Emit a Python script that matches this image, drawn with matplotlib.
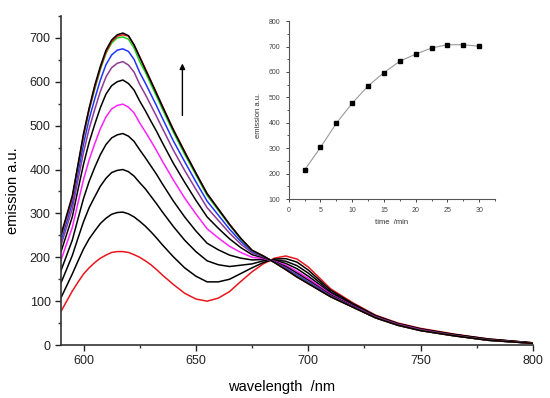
import matplotlib
matplotlib.use('Agg')
import matplotlib.pyplot as plt
from matplotlib.ticker import MultipleLocator

plt.rcParams['font.family'] = ['Liberation Sans', 'DejaVu Sans']

# Emission spectra (one row per scan, wavelength grid below).
wavelength = [590, 595, 597.5, 600, 602.5, 605, 607.5, 610, 612.5, 615, 617.5, 620, 622.5, 625,
              627.5, 630, 632.5, 635, 640, 645, 650, 655, 660, 665, 670, 675, 680, 685, 690, 695,
              700, 705, 710, 720, 730, 740, 750, 765, 780, 800]

scan_1 = [77, 123, 143, 162, 176, 188, 198, 205, 211, 213, 213, 211, 206, 200,
          192, 183, 172, 160, 138, 118, 105, 100, 107, 122, 145, 167, 185, 198, 203, 196,
          178, 153, 128, 96, 68, 50, 38, 25, 14, 5]
scan_2 = [108, 162, 191, 219, 242, 260, 277, 289, 298, 302, 303, 299, 292, 282,
          271, 258, 244, 229, 201, 176, 157, 144, 144, 150, 163, 176, 188, 196, 197, 189,
          171, 148, 125, 94, 67, 49, 37, 24, 14, 5]
scan_3 = [142, 204, 243, 281, 313, 338, 362, 380, 393, 398, 400, 395, 385, 370,
          356, 339, 322, 304, 270, 239, 213, 192, 183, 179, 182, 185, 192, 194, 191, 181,
          164, 143, 121, 92, 66, 48, 36, 24, 13, 5]
scan_4 = [170, 239, 287, 334, 373, 405, 434, 457, 472, 479, 482, 476, 464, 445,
          427, 408, 389, 368, 328, 292, 260, 232, 217, 205, 198, 194, 195, 193, 186, 174,
          157, 138, 118, 91, 65, 47, 35, 23, 12, 4]
scan_5 = [194, 268, 323, 377, 422, 459, 493, 520, 538, 546, 549, 542, 529, 506,
          486, 465, 443, 420, 376, 335, 299, 265, 244, 225, 211, 200, 197, 191, 182, 168,
          152, 134, 116, 89, 64, 47, 35, 22, 12, 4]
scan_6 = [213, 292, 353, 412, 462, 503, 541, 572, 591, 600, 604, 596, 581, 556,
          534, 510, 487, 462, 414, 371, 330, 292, 266, 242, 222, 206, 199, 190, 179, 164,
          148, 131, 114, 88, 63, 46, 34, 22, 12, 4]
scan_7 = [228, 310, 375, 439, 493, 537, 578, 611, 632, 642, 646, 638, 622, 594,
          571, 546, 521, 495, 444, 398, 355, 313, 284, 255, 230, 210, 201, 189, 176, 160,
          145, 129, 112, 87, 63, 46, 34, 22, 11, 4]
scan_8 = [238, 323, 391, 458, 515, 561, 604, 639, 661, 672, 675, 669, 651, 621,
          597, 571, 545, 518, 465, 418, 372, 328, 296, 264, 236, 213, 202, 189, 174, 158,
          143, 127, 111, 87, 62, 45, 33, 21, 11, 4]
scan_9 = [247, 335, 406, 475, 535, 583, 628, 665, 688, 700, 702, 697, 677, 646,
          622, 594, 567, 539, 485, 435, 388, 341, 307, 273, 241, 215, 203, 188, 172, 156,
          141, 125, 110, 86, 62, 45, 33, 21, 11, 4]
scan_10 = [249, 334, 408, 477, 537, 587, 632, 667, 692, 704, 707, 704, 684, 657,
           630, 602, 574, 546, 491, 441, 392, 345, 310, 275, 243, 216, 203, 188, 172, 155,
           140, 125, 110, 86, 62, 45, 33, 21, 11, 4]
scan_11 = [252, 340, 410, 482, 540, 592, 635, 672, 695, 707, 711, 705, 684, 656,
           628, 601, 573, 545, 490, 440, 392, 345, 310, 275, 243, 216, 203, 188, 172, 155,
           140, 125, 110, 86, 62, 45, 33, 21, 11, 4]

scans = [scan_1, scan_2, scan_3, scan_4, scan_5, scan_6, scan_7, scan_8, scan_9, scan_10, scan_11]
scan_colors = ['#e8161c', 'black', 'black', 'black', '#ff22ff', 'black', '#8e3a96',
               '#1f35ff', '#18d018', '#e8161c', 'black']

# Inset: peak emission vs time.
time_min = [2.5, 5, 7.5, 10, 12.5, 15, 17.5, 20, 22.5, 25, 27.5, 30]
peak_emission = [214, 303, 398, 477, 545, 597, 642, 670, 694, 707, 707, 701]

fig = plt.figure(figsize=(5.5, 3.98), dpi=100)
ax = fig.add_axes([0.111, 0.133, 0.858, 0.827])

for values, color in zip(scans, scan_colors):
    ax.plot(wavelength, values, color=color, lw=1.1)

ax.set_xlim(590, 800)
ax.set_ylim(0, 750)
ax.xaxis.set_major_locator(MultipleLocator(50))
ax.xaxis.set_minor_locator(MultipleLocator(25))
ax.yaxis.set_major_locator(MultipleLocator(100))
ax.yaxis.set_minor_locator(MultipleLocator(50))
ax.spines['top'].set_visible(False)
ax.spines['right'].set_visible(False)
for s in ['left', 'bottom']:
    ax.spines[s].set_color('#333333')
    ax.spines[s].set_linewidth(1.2)
ax.tick_params(which='major', direction='out', length=4, width=1, labelsize=9, colors='#222222')
ax.tick_params(which='minor', direction='out', length=2.5, width=1, colors='#333333')
ax.set_xlabel('wavelength  /nm', fontsize=10.5)
ax.set_ylabel('emission a.u.', fontsize=10.5)
ax.xaxis.set_label_coords(0.468, -0.105)
ax.yaxis.set_label_coords(-0.088, 0.47)

# Arrow showing the rising emission.
ax.annotate('', xy=(644, 648), xytext=(644, 517),
            arrowprops=dict(arrowstyle='-|>', color='black', lw=1.0, mutation_scale=8))

# Inset.
ins = fig.add_axes([0.525, 0.5, 0.375, 0.447])
ins.plot(time_min, peak_emission, color='#999999', lw=0.8, zorder=1)
ins.plot(time_min, peak_emission, ls='none', marker='s', ms=3, color='black', zorder=2)
ins.set_xlim(0, 32.5)
ins.set_ylim(100, 800)
ins.xaxis.set_major_locator(MultipleLocator(5))
ins.xaxis.set_minor_locator(MultipleLocator(2.5))
ins.yaxis.set_major_locator(MultipleLocator(100))
ins.yaxis.set_minor_locator(MultipleLocator(50))
ins.spines['top'].set_visible(False)
ins.spines['right'].set_visible(False)
for s in ['left', 'bottom']:
    ins.spines[s].set_color('#555555')
    ins.spines[s].set_linewidth(0.8)
ins.tick_params(which='major', direction='out', length=2.5, width=0.7, labelsize=5, colors='#444444')
ins.tick_params(which='minor', direction='out', length=1.5, width=0.7, colors='#555555')
ins.set_xlabel('time  /min', fontsize=5.5, color='#333333')
ins.set_ylabel('emission a.u.', fontsize=5.5, color='#333333')
ins.xaxis.set_label_coords(0.5, -0.11)
ins.yaxis.set_label_coords(-0.13, 0.47)

fig.savefig('out.png', dpi=100)
